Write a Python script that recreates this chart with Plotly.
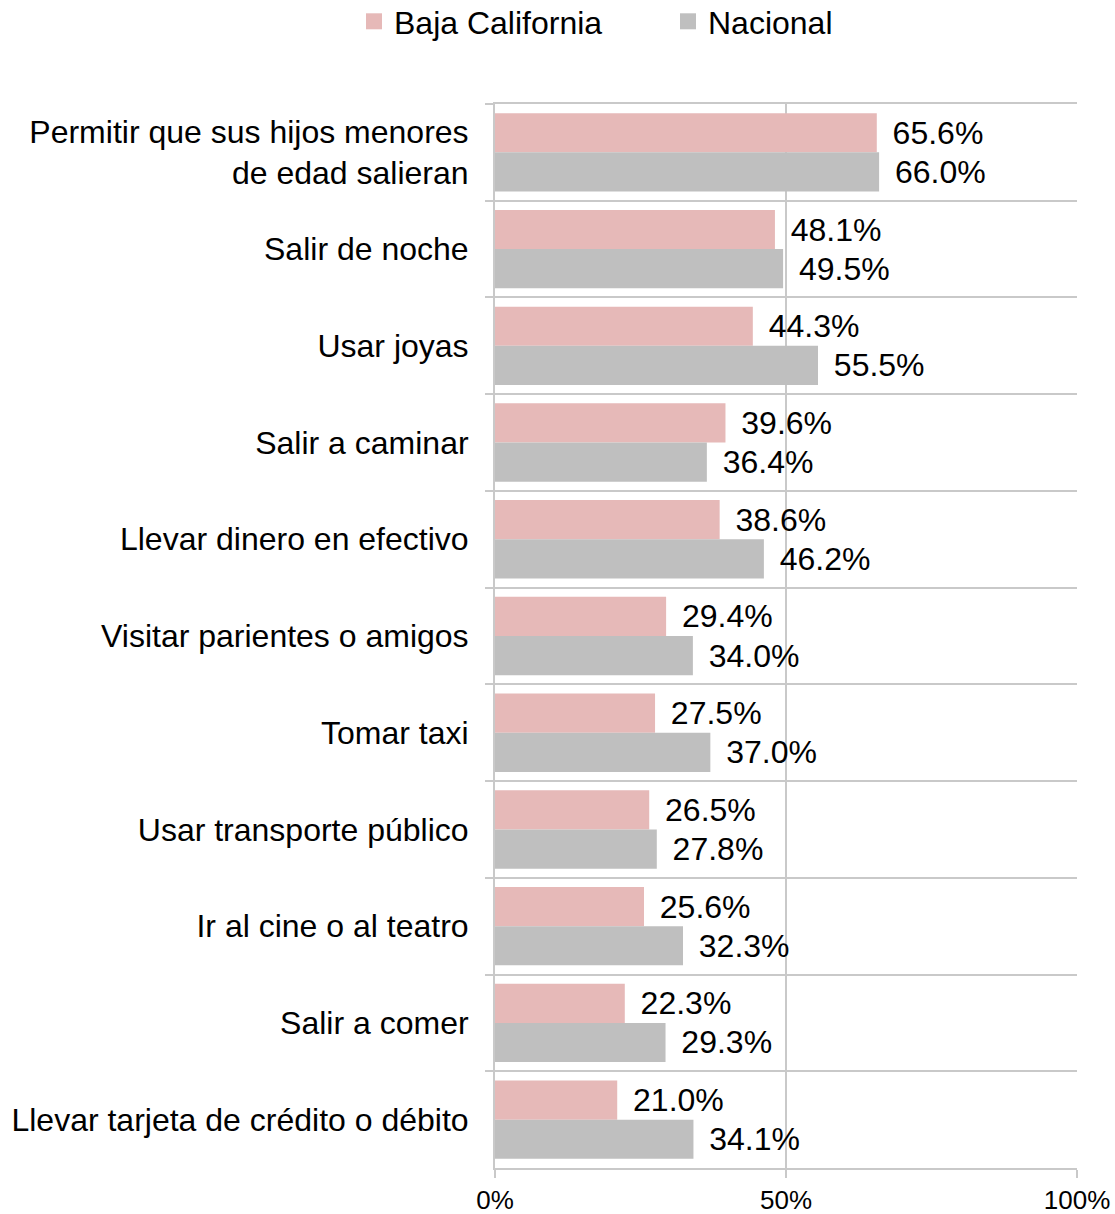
import plotly.graph_objects as go

categories = [
    "Permitir que sus hijos menores<br>de edad salieran",
    "Salir de noche",
    "Usar joyas",
    "Salir a caminar",
    "Llevar dinero en efectivo",
    "Visitar parientes o amigos",
    "Tomar taxi",
    "Usar transporte público",
    "Ir al cine o al teatro",
    "Salir a comer",
    "Llevar tarjeta de crédito o débito",
]
baja_california = [65.6, 48.1, 44.3, 39.6, 38.6, 29.4, 27.5, 26.5, 25.6, 22.3, 21.0]
nacional = [66.0, 49.5, 55.5, 36.4, 46.2, 34.0, 37.0, 27.8, 32.3, 29.3, 34.1]
x_ticks = [0, 50, 100]
x_tick_labels = ["0%", "50%", "100%"]

PINK = "#E6B9B8"
GRAY = "#BFBFBF"
GRID = "#C9C9C9"
FONT = "Liberation Sans, Arial, sans-serif"
FS = 32

W, H = 1115, 1214
M_L, M_R, M_T, M_B = 495, 38, 104, 46
plot_w = W - M_L - M_R
plot_h = H - M_T - M_B

fig = go.Figure()
for name, vals, color in [("Baja California", baja_california, PINK),
                          ("Nacional", nacional, GRAY)]:
    fig.add_trace(go.Bar(
        y=categories, x=vals, orientation="h", name=name,
        marker=dict(color=color, line=dict(width=0)),
        text=[f"{v:.1f}%" for v in vals],
        texttemplate="\u2009\u2009%{text}",
        textposition="outside", constraintext="none", cliponaxis=False,
        textfont=dict(family=FONT, size=FS, color="#000000"),
        showlegend=False,
    ))
    # legend swatch
    fig.add_trace(go.Scatter(
        x=[None], y=[None], mode="markers", name=name,
        marker=dict(symbol="square", size=17, color=color),
        showlegend=True,
    ))

fig.update_layout(
    width=W, height=H,
    margin=dict(l=M_L, r=M_R, t=M_T, b=M_B, autoexpand=False),
    paper_bgcolor="white", plot_bgcolor="white",
    barmode="group", bargap=0.19, bargroupgap=0,
    font=dict(family=FONT, size=FS, color="#000000"),
    legend=dict(orientation="h",
                x=(354 - M_L) / plot_w, xanchor="left",
                y=1 + 110 / plot_h, yanchor="top",
                entrywidth=269, entrywidthmode="pixels",
                font=dict(family=FONT, size=FS), itemwidth=30,
                bgcolor="rgba(0,0,0,0)"),
    xaxis=dict(range=[0, 100], tickvals=x_ticks, ticktext=x_tick_labels,
               showgrid=True, gridcolor=GRID, gridwidth=2,
               zeroline=False, automargin=False,
               showline=True, mirror=True, linecolor=GRID, linewidth=2,
               ticks="outside", ticklen=8, tickcolor=GRID, tickwidth=2,
               tickfont=dict(family=FONT, size=26)),
    yaxis=dict(type="category", autorange="reversed", automargin=False,
               tickson="boundaries", showgrid=True, gridcolor=GRID, gridwidth=2,
               ticks="outside", ticklen=8, tickcolor=GRID, tickwidth=2,
               showline=True, linecolor=GRID, linewidth=2,
               ticklabelstandoff=18,
               tickfont=dict(family=FONT, size=FS)),
)

fig.write_html("out.html")
